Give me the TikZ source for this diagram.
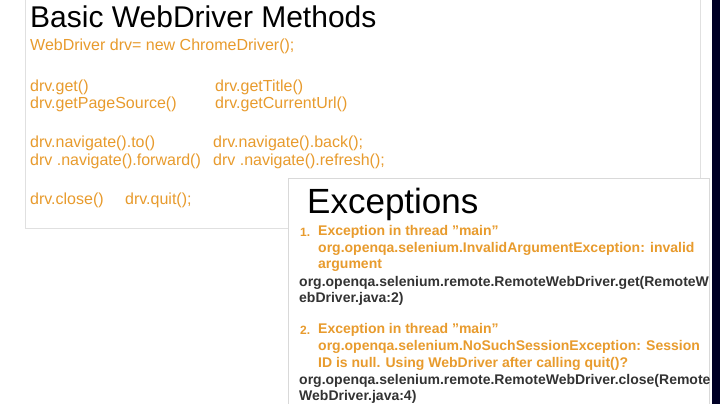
\documentclass[tikz,border=0pt]{standalone}
\usepackage{fontspec}
\setmainfont{Liberation Sans}
\newcommand{\dq}{\symbol{34}}
\begin{document}
\begin{tikzpicture}[x=1pt,y=-1pt,
  o/.style={anchor=west,inner sep=0pt,text=orn,font=\fontsize{16}{16}\selectfont},
  ob/.style={anchor=west,inner sep=0pt,text=orn,font=\fontsize{14}{14}\selectfont\bfseries},
  bk/.style={anchor=west,inner sep=0pt,text=black!80,font=\fontsize{14}{14}\selectfont\bfseries}]
\definecolor{orn}{RGB}{232,155,45}
\useasboundingbox (0,0) rectangle (720,404);
\fill[gray!6] (0,0) rectangle (720,404);
\fill[white] (0,0) rectangle (712,404);
\fill[black!85!blue] (712,0) rectangle (720,404);
\draw[black!12,fill=white] (25,-2) rectangle (700,228);
\node[anchor=west,inner sep=0pt,font=\fontsize{30}{30}\selectfont] (t1) at (30,17) {Basic WebDriver Methods};
\node[o] (a0) at (30,46) {WebDriver drv= new ChromeDriver();};
\node[o] (a1) at (30,87) {drv.get()};
\node[o] (a2) at (215,87) {drv.getTitle()};
\node[o] (a3) at (30,104) {drv.getPageSource()};
\node[o] (a4) at (215,104) {drv.getCurrentUrl()};
\node[o] (a5) at (30,143) {drv.navigate().to()};
\node[o] (a6) at (213,143) {drv.navigate().back();};
\node[o] (a7) at (30,161) {drv .navigate().forward()};
\node[o] (a8) at (213,161) {drv .navigate().refresh();};
\node[o] (a9) at (30,200) {drv.close()};
\node[o] (a10) at (125,200) {drv.quit();};
\draw[black!15,fill=white] (288,178) rectangle (709,410);
\node[anchor=west,inner sep=0pt,font=\fontsize{35}{35}\selectfont] (t2) at (307,204) {Exceptions};
\node[ob,font=\fontsize{12}{12}\selectfont\bfseries] (n1) at (300,232) {1.};
\node[ob] (b1) at (318,232) {Exception in thread \dq main\dq};
\node[ob] (b2) at (318,249) {org.openqa.selenium.InvalidArgumentException: invalid};
\node[ob] (b3) at (318,265) {argument};
\node[bk] (c1) at (299,283) {org.openqa.selenium.remote.RemoteWebDriver.get(RemoteW};
\node[bk] (c2) at (299,299) {ebDriver.java:2)};
\node[ob,font=\fontsize{12}{12}\selectfont\bfseries] (n2) at (300,330) {2.};
\node[ob] (d1) at (318,330) {Exception in thread \dq main\dq};
\node[ob] (d2) at (318,347) {org.openqa.selenium.NoSuchSessionException: Session};
\node[ob] (d3) at (318,364) {ID is null. Using WebDriver after calling quit()?};
\node[bk] (e1) at (299,381) {org.openqa.selenium.remote.RemoteWebDriver.close(Remote};
\node[bk] (e2) at (299,397) {WebDriver.java:4)};
\end{tikzpicture}
\end{document}
